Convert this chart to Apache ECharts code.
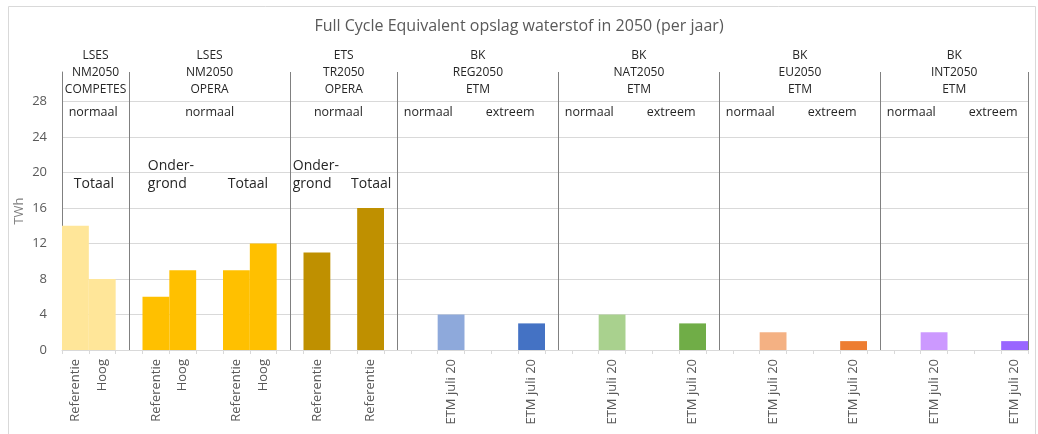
<!DOCTYPE html>
<html>
<head>
<meta charset="utf-8">
<script src="https://cdn.jsdelivr.net/npm/echarts@6/dist/echarts.min.js"></script>
<style>
  html, body { margin: 0; padding: 0; background: #fff; }
  #chart { width: 1038px; height: 434px; }
</style>
</head>
<body>
<div id="chart"></div>
<script>
// categorieen op de x-as (lege plekken zijn scheidingen tussen de groepen)
const categories = [
  'Referentie', 'Hoog', '',
  'Referentie', 'Hoog', '', 'Referentie', 'Hoog', '',
  'Referentie', '', 'Referentie', '',
  '', 'ETM juli 20', '', '', 'ETM juli 20', '',
  '', 'ETM juli 20', '', '', 'ETM juli 20', '',
  '', 'ETM juli 20', '', '', 'ETM juli 20', '',
  '', 'ETM juli 20', '', '', 'ETM juli 20'
];
// TWh per categorie
const twh = [
  14, 8, null,
  6, 9, null, 9, 12, null,
  11, null, 16, null,
  null, 4, null, null, 3, null,
  null, 4, null, null, 3, null,
  null, 2, null, null, 1, null,
  null, 2, null, null, 1
];
const yTicks = [0, 4, 8, 12, 16, 20, 24, 28];

const groupNames = [
  'LSES\nNM2050\nCOMPETES', 'LSES\nNM2050\nOPERA', 'ETS\nTR2050\nOPERA',
  'BK\nREG2050\nETM', 'BK\nNAT2050\nETM', 'BK\nEU2050\nETM', 'BK\nINT2050\nETM'
];
// grenzen van de groepen in categorie-eenheden
const groupBounds = [0, 2.5, 8.5, 12.5, 18.5, 24.5, 30.5, 36];

// weerjaar labels: [tekst, x]
const weatherLabels = [
  ['normaal', 1.16], ['normaal', 5.5], ['normaal', 10.3],
  ['normaal', 13.65], ['extreem', 16.7],
  ['normaal', 19.65], ['extreem', 22.7],
  ['normaal', 25.65], ['extreem', 28.7],
  ['normaal', 31.65], ['extreem', 34.7]
];
// opslag labels: [tekst, x, y, uitlijning]
const storageLabels = [
  ['Totaal', 1.19, 18.7, 'center'],
  ['Onder-\ngrond', 3.2, 19.7, 'left'],
  ['Totaal', 6.93, 18.7, 'center'],
  ['Onder-\ngrond', 8.6, 19.7, 'left'],
  ['Totaal', 11.52, 18.7, 'center']
];

const barColors = {
  0: '#FFE699', 1: '#FFE699',
  3: '#FFC000', 4: '#FFC000', 6: '#FFC000', 7: '#FFC000',
  9: '#BF9000', 11: '#BF9000',
  14: '#8EA9DB', 17: '#4472C4',
  20: '#A9D18E', 23: '#70AD47',
  26: '#F4B183', 29: '#ED7D31',
  32: '#CC99FF', 35: '#9966FF'
};

const FONT = 'Open Sans';
const chart = echarts.init(document.getElementById('chart'));

const option = {
  backgroundColor: '#fff',
  textStyle: { fontFamily: FONT },
  title: {
    text: 'Full Cycle Equivalent opslag waterstof in 2050 (per jaar)',
    left: 'center',
    top: 13,
    textStyle: { fontFamily: FONT, fontSize: 16, fontWeight: 'normal', color: '#595959' }
  },
  graphic: [{
    type: 'rect',
    shape: { x: 8.5, y: 6.5, width: 1027, height: 440 },
    style: { fill: 'none', stroke: '#d9d9d9', lineWidth: 1 },
    silent: true
  }],
  grid: { left: 62, right: 10, top: 72, bottom: 84, outerBoundsMode: 'none' },
  xAxis: [{
    type: 'category',
    data: categories,
    axisLine: { lineStyle: { color: '#d9d9d9' } },
    axisTick: { show: true, interval: 0, length: 4, lineStyle: { color: '#d9d9d9' } },
    axisLabel: { interval: 0, rotate: 90, fontSize: 13, color: '#595959', margin: 9 },
    splitLine: { show: false }
  }, {
    type: 'value',
    min: groupBounds[0],
    max: groupBounds[groupBounds.length - 1],
    show: false
  }],
  yAxis: {
    type: 'value',
    min: yTicks[0],
    max: 31.35,
    interval: 4,
    offset: 9,
    name: 'TWh',
    nameLocation: 'middle',
    nameGap: 27,
    nameMoveOverlap: false,
    nameTextStyle: { fontSize: 13, color: '#7f7f7f' },
    axisLine: { show: true, lineStyle: { color: '#808080' } },
    axisTick: { show: false },
    axisLabel: { fontSize: 13, color: '#595959', showMaxLabel: false, margin: 6 },
    splitLine: { show: true, showMaxLine: false, lineStyle: { color: '#d9d9d9' } }
  },
  series: [{
    type: 'bar',
    xAxisIndex: 0,
    barCategoryGap: '0%',
    silent: true,
    data: twh.map((v, i) => ({ value: v, itemStyle: { color: barColors[i] } }))
  }, {
    type: 'line',
    xAxisIndex: 1,
    yAxisIndex: 0,
    data: [],
    clip: false,
    silent: true,
    markLine: {
      silent: true,
      symbol: 'none',
      label: { show: false },
      lineStyle: { color: '#808080', width: 1, type: 'solid' },
      data: groupBounds.slice(1).map(b => ({ xAxis: b }))
    },
    markArea: {
      silent: true,
      itemStyle: { color: 'rgba(0,0,0,0)' },
      label: {
        show: true,
        position: 'insideTop',
        offset: [0, -30],
        fontSize: 12,
        lineHeight: 17,
        color: '#262626',
        align: 'center'
      },
      data: groupNames.map((n, i) => [
        { name: n, xAxis: groupBounds[i] },
        { xAxis: groupBounds[i + 1] }
      ])
    },
    markPoint: {
      silent: true,
      symbol: 'rect',
      symbolSize: 1,
      itemStyle: { color: 'rgba(0,0,0,0)' },
      label: { show: true, position: 'inside', formatter: '{b}', color: '#262626' },
      data: weatherLabels.map(w => ({
        name: w[0], coord: [w[1], 26.8],
        label: { fontSize: 12.5 }
      })).concat(storageLabels.map(s => ({
        name: s[0], coord: [s[1], s[2]],
        label: { fontSize: 14, lineHeight: 18, align: s[3] }
      })))
    }
  }]
};

chart.setOption(option);
</script>
</body>
</html>
